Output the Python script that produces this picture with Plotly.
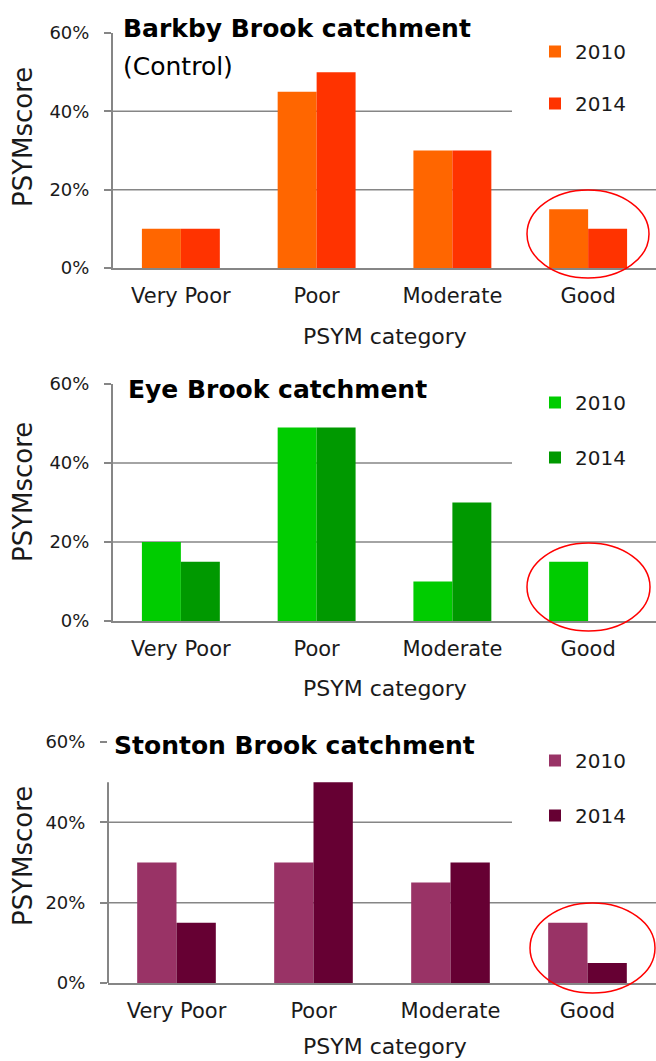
import plotly.graph_objects as go

W, H = 656, 1061

categories = ["Very Poor", "Poor", "Moderate", "Good"]
years = ["2010", "2014"]
barkby_2010 = [10, 45, 30, 15]
barkby_2014 = [10, 50, 30, 10]
eye_2010 = [20, 49, 10, 15]
eye_2014 = [15, 49, 30, 0]
stonton_2010 = [30, 30, 25, 15]
stonton_2014 = [15, 50, 30, 5]
y_ticks = [0, 20, 40, 60]

titles = ["Barkby Brook catchment", "Eye Brook catchment", "Stonton Brook catchment"]
subtitle = "(Control)"
y_title = "PSYMscore"
x_title = "PSYM category"
colors = [("#FF6600", "#FF3300"), ("#00CC00", "#009900"), ("#993366", "#660033")]

FONT = "DejaVu Sans"
GRAY = "#868686"
TXT = "#1a1a1a"


def fx(p):
    return p / W


def fy(p):
    return 1 - p / H


# panel geometry in pixels: (x_left, y_zero, y_top)
panels = [(113, 268, 33), (113, 621, 384), (108, 983, 742)]
legend_gaps = [23, 26, 26]
ytitle_centers = [137, 492, 856]
xtitle_centers = [336, 688, 1046]
series = [(barkby_2010, barkby_2014), (eye_2010, eye_2014), (stonton_2010, stonton_2014)]

fig = go.Figure()
layout = dict(
    width=W, height=H, margin=dict(l=0, r=0, t=0, b=0, autoexpand=False),
    plot_bgcolor="white", paper_bgcolor="white",
    barmode="group", bargap=0.426, bargroupgap=0,
    font=dict(family=FONT, color=TXT),
    showlegend=True,
)
shapes = []
annotations = []

for i, ((xl, y0p, y1p), (s10, s14), (c10, c14)) in enumerate(zip(panels, series, colors)):
    n = "" if i == 0 else str(i + 1)
    xa, ya = "x" + n, "y" + n
    lg = "legend" + n
    for yr, vals, col in ((years[0], s10, c10), (years[1], s14, c14)):
        fig.add_trace(go.Bar(
            x=categories, y=vals, name=yr, marker=dict(color=col, line=dict(width=0)),
            xaxis=xa, yaxis=ya, legend=lg, legendgroup=yr + n, hoverinfo="skip",
        ))
    layout["xaxis" + n] = dict(
        domain=[fx(xl), 1], anchor=ya, type="category", automargin=False,
        showline=True, linecolor=GRAY, linewidth=2, ticks="", showgrid=False,
        tickfont=dict(size=21, color=TXT, family=FONT), ticklabelstandoff=8,
    )
    layout["yaxis" + n] = dict(
        domain=[fy(y0p), fy(y1p)], anchor=xa, range=[0, 60], automargin=False,
        tickvals=y_ticks, ticktext=[f"{v}%" for v in y_ticks],
        showline=(i != 2), linecolor=GRAY, linewidth=2, showgrid=False, zeroline=False,
        ticks="outside", ticklen=7, tickcolor=GRAY, tickwidth=2,
        tickfont=dict(size=18, color=TXT, family=FONT), ticklabelstandoff=11,
    )
    # gridlines
    shapes.append(dict(type="line", xref=xa + " domain", yref=ya, x0=0, x1=1, y0=20, y1=20,
                       line=dict(color=GRAY, width=1.5), layer="below"))
    shapes.append(dict(type="line", xref=xa + " domain", yref=ya, x0=0, x1=(512 - xl) / (W - xl),
                       y0=40, y1=40, line=dict(color=GRAY, width=1.5), layer="below"))
    if i == 2:
        shapes.append(dict(type="line", xref=xa + " domain", yref=ya, x0=0, x1=0, y0=0, y1=50,
                           line=dict(color=GRAY, width=2), layer="above"))
    # legend
    layout[lg] = dict(
        x=fx(535), y=fy(y1p - 1), xanchor="left", yanchor="top", bgcolor="rgba(0,0,0,0)",
        font=dict(size=20, color=TXT, family=FONT), tracegroupgap=legend_gaps[i],
        traceorder="grouped",
    )
    # y title
    annotations.append(dict(text=y_title, xref="paper", yref="paper", x=fx(23),
                            y=fy(ytitle_centers[i]), textangle=-90, showarrow=False,
                            font=dict(size=26, color=TXT, family=FONT),
                            xanchor="center", yanchor="middle"))
    # x title
    annotations.append(dict(text=x_title, xref="paper", yref="paper", x=fx(385),
                            y=fy(xtitle_centers[i]), showarrow=False,
                            font=dict(size=22, color=TXT, family=FONT),
                            xanchor="center", yanchor="middle"))

# chart titles
title_pos = [(121, 28), (126, 390), (112, 745)]
for t, (tx, ty) in zip(titles, title_pos):
    annotations.append(dict(text=f"<b>{t}</b>", xref="paper", yref="paper", x=fx(tx), y=fy(ty),
                            showarrow=False, xanchor="left", yanchor="middle",
                            font=dict(size=25, color="black", family=FONT)))
annotations.append(dict(text=subtitle, xref="paper", yref="paper", x=fx(121), y=fy(67),
                        showarrow=False, xanchor="left", yanchor="middle",
                        font=dict(size=25, color="black", family=FONT)))

# highlight ellipses
ellipses = [(527, 190, 649, 278), (527, 543, 650, 631), (530, 903, 655, 993)]
for (ex0, ey0, ex1, ey1) in ellipses:
    shapes.append(dict(type="circle", xref="paper", yref="paper", x0=fx(ex0), x1=fx(ex1),
                       y0=fy(ey1), y1=fy(ey0), line=dict(color="#FF0000", width=1.5), layer="above"))

layout["shapes"] = shapes
layout["annotations"] = annotations
fig.update_layout(**layout)
fig.write_html(
    "out.html",
    config={"displayModeBar": False},
    post_script="document.body.style.margin='0';document.body.style.padding='0';"
                "document.documentElement.style.overflow='hidden';",
)
